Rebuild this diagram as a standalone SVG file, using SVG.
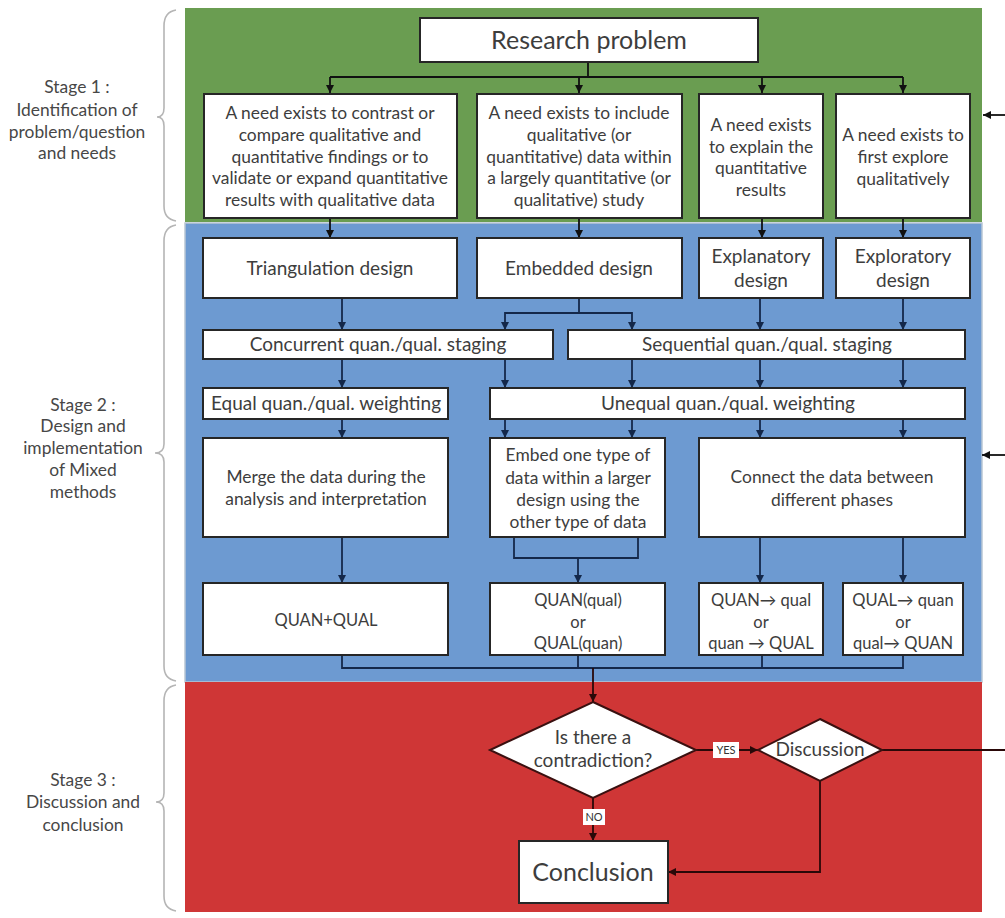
<svg xmlns="http://www.w3.org/2000/svg" width="1005" height="918" viewBox="0 0 1005 918">
  <defs>
    <style>
      .panel-green { fill: #6a9d51; }
      .panel-blue { fill: #6d9ad1; stroke: #b9c6d4; stroke-width: 1.5; }
      .panel-red { fill: #cf3636; }
      .box { fill: #ffffff; stroke: #262626; stroke-width: 2; }
      .dia { fill: #ffffff; stroke: #3a1010; stroke-width: 2; }
      .t { font-family: Lato, "Liberation Sans", sans-serif; fill: #3d3d3d; text-anchor: middle; font-size: 17.4px; }
      .side { font-family: Lato, "Liberation Sans", sans-serif; fill: #474747; text-anchor: middle; font-size: 17.4px; }
      .lg { font-size: 19px; }
      .sm { font-size: 16.5px; }
      .big { font-size: 25px; }
      .mid { font-size: 19px; }
      .tag { font-size: 11px; fill: #333; }
      .brace { fill: none; stroke: #b5b5b5; stroke-width: 1.6; }
      .c-g { fill: none; stroke: #111111; stroke-width: 1.8; }
      .c-b { fill: none; stroke: #14284a; stroke-width: 1.8; }
      .c-r { fill: none; stroke: #2a0808; stroke-width: 1.8; }
    </style>
    <marker id="ah-g" viewBox="0 0 10 10" refX="10" refY="5" markerWidth="8" markerHeight="8" markerUnits="userSpaceOnUse" orient="auto">
      <path d="M0,0 L10,5 L0,10 z" fill="#111111"/>
    </marker>
    <marker id="ah-b" viewBox="0 0 10 10" refX="10" refY="5" markerWidth="8" markerHeight="8" markerUnits="userSpaceOnUse" orient="auto">
      <path d="M0,0 L10,5 L0,10 z" fill="#14284a"/>
    </marker>
    <marker id="ah-r" viewBox="0 0 10 10" refX="10" refY="5" markerWidth="8" markerHeight="8" markerUnits="userSpaceOnUse" orient="auto">
      <path d="M0,0 L10,5 L0,10 z" fill="#2a0808"/>
    </marker>
  </defs>

  <rect width="1005" height="918" fill="#ffffff"/>

  <!-- stage panels -->
  <g id="panels">
    <rect class="panel-green" x="185" y="8" width="797" height="214"/>
    <rect class="panel-blue" x="185" y="223" width="797" height="459"/>
    <rect class="panel-red" x="185" y="682" width="797" height="230"/>
  </g>

  <!-- stage braces and labels -->
  <g id="stage1-label">
    <path class="brace" d="M176,10 Q164,12 164,26 V108 Q164,117 157,117 Q164,117 164,126 V206 Q164,219 176,221"/>
    <text class="side" x="77" y="93">Stage 1 :</text>
    <text class="side" x="77" y="116">Identification of</text>
    <text class="side" x="77" y="138">problem/question</text>
    <text class="side" x="77" y="159">and needs</text>
  </g>
  <g id="stage2-label">
    <path class="brace" d="M176,225 Q164,227 164,241 V444 Q164,453 155,453 Q164,453 164,462 V666 Q164,679 176,681"/>
    <text class="side" x="83" y="411">Stage 2 :</text>
    <text class="side" x="83" y="432">Design and</text>
    <text class="side" x="83" y="454">implementation</text>
    <text class="side" x="83" y="476">of Mixed</text>
    <text class="side" x="83" y="498">methods</text>
  </g>
  <g id="stage3-label">
    <path class="brace" d="M176,685 Q164,687 164,701 V793 Q164,802 156,802 Q164,802 164,811 V896 Q164,909 176,911"/>
    <text class="side" x="83" y="786">Stage 3 :</text>
    <text class="side" x="83" y="808">Discussion and</text>
    <text class="side" x="83" y="831">conclusion</text>
  </g>

  <!-- connectors -->
  <g id="connectors">
    <!-- stage 1 -->
    <path class="c-g" d="M588,62 V77"/>
    <path class="c-g" d="M330,77 H903"/>
    <path class="c-g" d="M330,77 V93" marker-end="url(#ah-g)"/>
    <path class="c-g" d="M579,77 V93" marker-end="url(#ah-g)"/>
    <path class="c-g" d="M762,77 V93" marker-end="url(#ah-g)"/>
    <path class="c-g" d="M903,77 V93" marker-end="url(#ah-g)"/>
    <path class="c-g" d="M330,218 V238" marker-end="url(#ah-g)"/>
    <path class="c-g" d="M579,218 V238" marker-end="url(#ah-g)"/>
    <path class="c-g" d="M762,218 V238" marker-end="url(#ah-g)"/>
    <path class="c-g" d="M903,218 V238" marker-end="url(#ah-g)"/>
    <!-- stage 2 -->
    <path class="c-b" d="M342,298 V330" marker-end="url(#ah-b)"/>
    <path class="c-b" d="M579,298 V313 H505 V330" marker-end="url(#ah-b)"/>
    <path class="c-b" d="M579,313 H632 V330" marker-end="url(#ah-b)"/>
    <path class="c-b" d="M760,298 V330" marker-end="url(#ah-b)"/>
    <path class="c-b" d="M903,298 V330" marker-end="url(#ah-b)"/>
    <path class="c-b" d="M342,359 V388" marker-end="url(#ah-b)"/>
    <path class="c-b" d="M505,359 V388" marker-end="url(#ah-b)"/>
    <path class="c-b" d="M632,359 V388" marker-end="url(#ah-b)"/>
    <path class="c-b" d="M760,359 V388" marker-end="url(#ah-b)"/>
    <path class="c-b" d="M903,359 V388" marker-end="url(#ah-b)"/>
    <path class="c-b" d="M342,419 V438" marker-end="url(#ah-b)"/>
    <path class="c-b" d="M505,419 V438" marker-end="url(#ah-b)"/>
    <path class="c-b" d="M632,419 V438" marker-end="url(#ah-b)"/>
    <path class="c-b" d="M760,419 V438" marker-end="url(#ah-b)"/>
    <path class="c-b" d="M903,419 V438" marker-end="url(#ah-b)"/>
    <path class="c-b" d="M342,537 V583" marker-end="url(#ah-b)"/>
    <path class="c-b" d="M514,537 V558 H638 V537"/>
    <path class="c-b" d="M578,558 V583" marker-end="url(#ah-b)"/>
    <path class="c-b" d="M760,537 V583" marker-end="url(#ah-b)"/>
    <path class="c-b" d="M903,537 V583" marker-end="url(#ah-b)"/>
    <path class="c-b" d="M342,655 V668 H903 V655"/>
    <path class="c-b" d="M578,655 V668"/>
    <path class="c-b" d="M762,655 V668"/>
    <path class="c-r" d="M593,668 V702" marker-end="url(#ah-r)"/>
    <!-- stage 3 -->
    <path class="c-r" d="M696,750 H758" marker-end="url(#ah-r)"/>
    <path class="c-r" d="M593,798 V841" marker-end="url(#ah-r)"/>
    <path class="c-r" d="M820,781 V872 H668" marker-end="url(#ah-r)"/>
    <path class="c-r" d="M882,750 H1005"/>
    <!-- feedback into stages 1 and 2 -->
    <path class="c-g" d="M1005,115 H983" marker-end="url(#ah-g)"/>
    <path class="c-g" d="M1005,455 H982" marker-end="url(#ah-g)"/>
    <!-- branch tags -->
    <rect x="713" y="742" width="26" height="16" fill="#ffffff"/>
    <text class="t tag" x="726" y="754">YES</text>
    <rect x="583" y="809" width="22" height="16" fill="#ffffff"/>
    <text class="t tag" x="594" y="821">NO</text>
  </g>

  <!-- stage 1 nodes -->
  <g id="research-problem">
    <rect class="box" x="420" y="18" width="338" height="44"/>
    <text class="t big" x="589" y="49">Research problem</text>
  </g>
  <g id="need-contrast">
    <rect class="box" x="204" y="94" width="253" height="124"/>
    <text class="t" x="330" y="119">A need exists to contrast or</text>
    <text class="t" x="330" y="141">compare qualitative and</text>
    <text class="t" x="330" y="163">quantitative findings or to</text>
    <text class="t" x="330" y="184">validate or expand quantitative</text>
    <text class="t" x="330" y="206">results with qualitative data</text>
  </g>
  <g id="need-include">
    <rect class="box" x="477" y="94" width="205" height="124"/>
    <text class="t" x="579" y="119">A need exists to include</text>
    <text class="t" x="579" y="141">qualitative (or</text>
    <text class="t" x="579" y="163">quantitative) data within</text>
    <text class="t" x="579" y="184">a largely quantitative (or</text>
    <text class="t" x="579" y="206">qualitative) study</text>
  </g>
  <g id="need-explain">
    <rect class="box" x="699" y="94" width="124" height="124"/>
    <text class="t" x="761" y="131">A need exists</text>
    <text class="t" x="761" y="153">to explain the</text>
    <text class="t" x="761" y="174">quantitative</text>
    <text class="t" x="761" y="196">results</text>
  </g>
  <g id="need-explore">
    <rect class="box" x="836" y="94" width="134" height="124"/>
    <text class="t" x="903" y="141">A need exists to</text>
    <text class="t" x="903" y="163">first explore</text>
    <text class="t" x="903" y="185">qualitatively</text>
  </g>

  <!-- stage 2 nodes -->
  <g id="triangulation-design">
    <rect class="box" x="203" y="238" width="254" height="60"/>
    <text class="t lg" x="330" y="275">Triangulation design</text>
  </g>
  <g id="embedded-design">
    <rect class="box" x="477" y="238" width="205" height="60"/>
    <text class="t lg" x="579" y="275">Embedded design</text>
  </g>
  <g id="explanatory-design">
    <rect class="box" x="699" y="238" width="124" height="60"/>
    <text class="t lg" x="761" y="263">Explanatory</text>
    <text class="t lg" x="761" y="287">design</text>
  </g>
  <g id="exploratory-design">
    <rect class="box" x="836" y="238" width="134" height="60"/>
    <text class="t lg" x="903" y="263">Exploratory</text>
    <text class="t lg" x="903" y="287">design</text>
  </g>
  <g id="concurrent-staging">
    <rect class="box" x="203" y="330" width="350" height="29"/>
    <text class="t lg" x="378" y="351">Concurrent quan./qual. staging</text>
  </g>
  <g id="sequential-staging">
    <rect class="box" x="568" y="330" width="397" height="29"/>
    <text class="t lg" x="767" y="351">Sequential quan./qual. staging</text>
  </g>
  <g id="equal-weighting">
    <rect class="box" x="203" y="388" width="245" height="31"/>
    <text class="t lg" x="326" y="410">Equal quan./qual. weighting</text>
  </g>
  <g id="unequal-weighting">
    <rect class="box" x="490" y="388" width="475" height="31"/>
    <text class="t lg" x="728" y="410">Unequal quan./qual. weighting</text>
  </g>
  <g id="merge-data">
    <rect class="box" x="203" y="438" width="245" height="99"/>
    <text class="t" x="326" y="483">Merge the data during the</text>
    <text class="t" x="326" y="505">analysis and interpretation</text>
  </g>
  <g id="embed-data">
    <rect class="box" x="490" y="438" width="175" height="99"/>
    <text class="t" x="578" y="461">Embed one type of</text>
    <text class="t" x="578" y="484">data within a larger</text>
    <text class="t" x="578" y="506">design using the</text>
    <text class="t" x="578" y="528">other type of data</text>
  </g>
  <g id="connect-data">
    <rect class="box" x="699" y="438" width="266" height="99"/>
    <text class="t" x="832" y="483">Connect the data between</text>
    <text class="t" x="832" y="506">different phases</text>
  </g>
  <g id="quan-plus-qual">
    <rect class="box" x="203" y="583" width="245" height="72"/>
    <text class="t sm" x="326" y="626">QUAN+QUAL</text>
  </g>
  <g id="quan-qual-embedded">
    <rect class="box" x="490" y="583" width="175" height="72"/>
    <text class="t sm" x="578" y="606">QUAN(qual)</text>
    <text class="t sm" x="578" y="628">or</text>
    <text class="t sm" x="578" y="649">QUAL(quan)</text>
  </g>
  <g id="quan-then-qual">
    <rect class="box" x="699" y="583" width="124" height="72"/>
    <text class="t sm" x="761" y="606">QUAN→ qual</text>
    <text class="t sm" x="761" y="628">or</text>
    <text class="t sm" x="761" y="649">quan → QUAL</text>
  </g>
  <g id="qual-then-quan">
    <rect class="box" x="843" y="583" width="120" height="72"/>
    <text class="t sm" x="903" y="606">QUAL→ quan</text>
    <text class="t sm" x="903" y="628">or</text>
    <text class="t sm" x="903" y="649">qual→ QUAN</text>
  </g>

  <!-- stage 3 nodes -->
  <g id="contradiction">
    <polygon class="dia" points="593,702 696,750 593,798 490,750"/>
    <text class="t mid" x="593" y="744">Is there a</text>
    <text class="t mid" x="593" y="767">contradiction?</text>
  </g>
  <g id="discussion">
    <polygon class="dia" points="820,719 882,750 820,781 758,750"/>
    <text class="t mid" x="820" y="756">Discussion</text>
  </g>
  <g id="conclusion">
    <rect class="box" x="519" y="841" width="149" height="62"/>
    <text class="t big" x="593" y="881">Conclusion</text>
  </g>
</svg>
